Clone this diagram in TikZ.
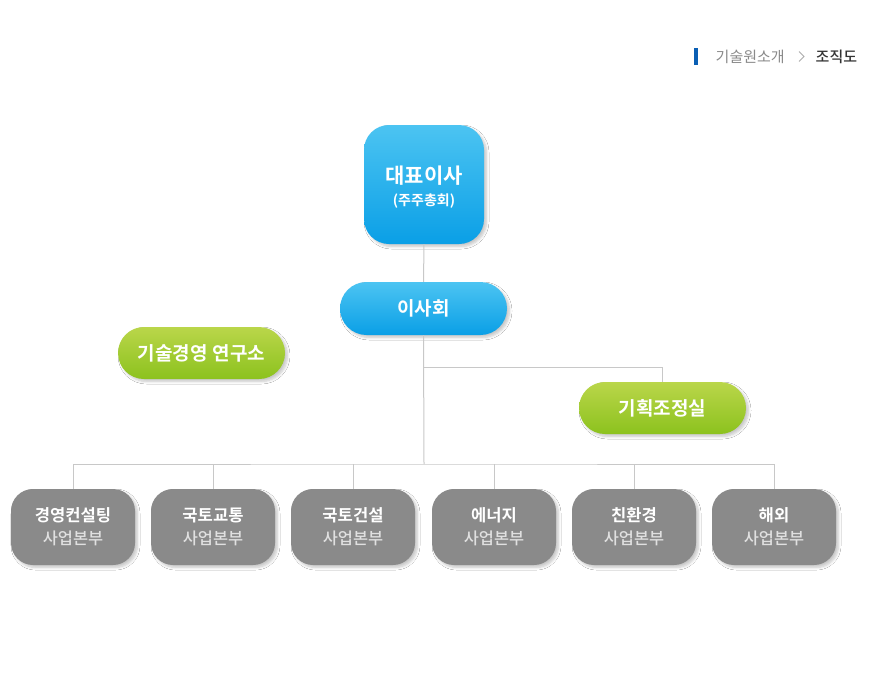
\documentclass[tikz,border=0pt]{standalone}
\usepackage{fontspec}
\setmainfont{Noto Sans CJK KR}
\newfontfamily\kbold{Noto Sans CJK KR Bold}
\newfontfamily\kmed{Noto Sans CJK KR Medium}
\newfontfamily\kreg{Noto Sans CJK KR}
\usetikzlibrary{shadows.blur}
\definecolor{bluetop}{HTML}{4CC4F2}
\definecolor{bluebot}{HTML}{0A9FE6}
\definecolor{greentop}{HTML}{BAD64A}
\definecolor{greenbot}{HTML}{8CC21E}
\definecolor{graybox}{HTML}{8A8A8A}
\definecolor{linecol}{HTML}{C8C8C8}
\definecolor{subtext}{HTML}{E0E0E0}
\definecolor{crumb}{HTML}{8A8A8A}
\definecolor{crumbdark}{HTML}{333333}
\definecolor{crumbblue}{HTML}{0A5FB4}
\tikzset{
  shad/.style={blur shadow={shadow blur steps=6,shadow xshift=2.5pt,shadow yshift=-2.5pt,shadow blur radius=2.5pt,shadow opacity=22}},
  bluebox/.style={shad,top color=bluetop,bottom color=bluebot,draw=none,inner sep=0pt,text=white,align=center},
  greenbox/.style={shad,top color=greentop,bottom color=greenbot,draw=none,inner sep=0pt,text=white,
     minimum width=167pt,minimum height=52pt,rounded corners=26pt,font=\kbold\fontsize{19}{21}\selectfont},
  graybox/.style={shad,fill=graybox,draw=none,inner sep=0pt,text=white,align=center,
     minimum width=124pt,minimum height=76pt,rounded corners=22pt,font=\kbold\fontsize{16.6}{23}\selectfont},
  conn/.style={draw=linecol,line width=1pt},
}
\newcommand{\sub}[1]{{\color{subtext}\kmed\fontsize{16.4}{23}\selectfont #1}}
\begin{document}
\begin{tikzpicture}[x=1pt,y=-1pt]
\useasboundingbox[fill=white] (0,0) rectangle (893,688);
% breadcrumb
\fill[crumbblue] (694,48) rectangle (698,65);
\node[anchor=west,inner sep=0pt,text=crumb,font=\kreg\fontsize{15}{17}\selectfont] (bc1) at (715.5,56.5) {기술원소개};
\draw[crumb!70,line width=1pt] (799,51.5) -- (804,56.5) -- (799,61.5);
\node[anchor=west,inner sep=0pt,text=crumbdark,font=\kmed\fontsize{15}{17}\selectfont] (bc2) at (815.5,56.5) {조직도};
% nodes
\node[bluebox,minimum width=120pt,minimum height=119pt,rounded corners=25pt] (ceo) at (424,184.5) {};
\node[inner sep=0pt,text=white,align=center,font=\kbold\fontsize{21}{21.5}\selectfont] (ceotxt) at (424,187)
  {대표이사\\{\kbold\fontsize{14}{16}\selectfont (주주총회)}};
\node[bluebox,minimum width=167pt,minimum height=53pt,rounded corners=26.5pt,font=\kbold\fontsize{19}{21}\selectfont] (board) at (423.5,308.5) {이사회};
\node[greenbox] (lab) at (201.5,353) {기술경영\hspace{0.25em}연구소};
\node[greenbox] (plan) at (662.5,408) {기획조정실};
\node[graybox] (d1) at (73,527) {경영컨설팅\\\sub{사업본부}};
\node[graybox] (d2) at (213,527) {국토교통\\\sub{사업본부}};
\node[graybox] (d3) at (353,527) {국토건설\\\sub{사업본부}};
\node[graybox] (d4) at (494,527) {에너지\\\sub{사업본부}};
\node[graybox] (d5) at (634,527) {친환경\\\sub{사업본부}};
\node[graybox] (d6) at (774,527) {해외\\\sub{사업본부}};
% connectors
\coordinate (hub) at (424,464);
\coordinate (pj) at (424,367);
\draw[conn] (ceo.south) -- (board.north);
\draw[conn] (board.south) -- (hub);
\draw[conn] (pj) -| (plan.north);
\draw[conn] (d1.north) |- (hub) -| (d6.north);
\foreach \n in {d2,d3,d4,d5} \draw[conn] (\n.north) -- (\n.north |- hub);
\end{tikzpicture}
\end{document}
